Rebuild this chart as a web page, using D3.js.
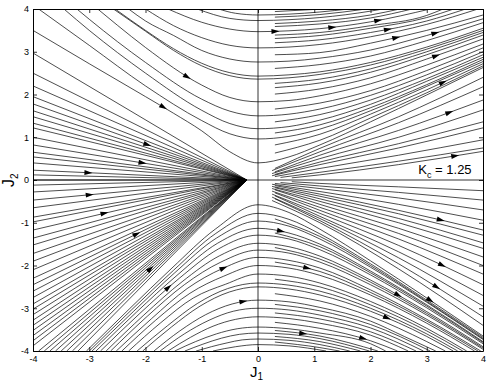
<!DOCTYPE html>
<html>
<head>
<meta charset="utf-8">
<script src="https://cdnjs.cloudflare.com/ajax/libs/d3/7.8.5/d3.min.js"></script>
<style>
body { margin: 0; background: #fff; }
svg { font-family: "Liberation Sans", Arial, Helvetica, sans-serif; }
</style>
</head>
<body>
<div id="flow"></div>
<script>
// ticks
const xTicks = [-4, -3, -2, -1, 0, 1, 2, 3, 4];
const yTicks = [-4, -3, -2, -1, 0, 1, 2, 3, 4];

// stable point on the left, where the fan of flow lines ends
const fixedPoint = [-0.2, 0];

// fan lines: start heights on the left edge, start positions on the bottom edge
const fanLeftY = [2.97, 2.5, 2.2, 1.95, 1.78, 1.62, 1.48, 1.33, 1.22, 1.0, 0.82, 0.65, 0.54, 0.4, 0.23, 0.12, 0,
  -0.12, -0.28, -0.47, -0.65, -0.87, -0.98, -1.17, -1.36, -1.52, -1.72, -1.9, -2.1, -2.3, -2.45, -2.6, -2.75,
  -2.9, -3.02, -3.15, -3.28, -3.4, -3.52, -3.64, -3.76, -3.88];
const fanBottomX = [-3.9, -3.8, -3.7, -3.6, -3.5, -3.4, -3.3, -3.2];

// U shaped lines above the fan (left to right)
const upperCurves = [
  [[-4,3.5],[-3,2.72],[-2,1.95],[-1.5,1.56],[-1,1.15],[-0.5,0.66],[0,0.4],[0.55,0.54],[1.1,0.82],[2,1.36],[3,1.99],[4,2.63]],
  [[-3.9,4],[-3,3.15],[-2,2.2],[-1,1.39],[-0.5,1.08],[0,0.96],[0.55,1.02],[1.1,1.19],[2,1.62],[3,2.19],[4,2.77]],
  [[-3.45,4],[-3,3.5],[-2,2.5],[-1,1.63],[-0.5,1.32],[0,1.2],[0.55,1.25],[1.1,1.4],[2,1.77],[3,2.31],[4,2.87]],
  [[-3.22,4],[-3,3.76],[-2,2.75],[-1,1.89],[-0.5,1.61],[0,1.5],[0.55,1.54],[1.1,1.66],[2,1.98],[3,2.46],[4,3.0]],
  [[-2.85,4],[-2.5,3.62],[-2,3.1],[-1,2.22],[-0.5,1.93],[0,1.83],[0.55,1.86],[1.1,1.97],[2,2.25],[3,2.69],[4,3.18]],
  [[-2.57,4],[-2,3.48],[-1.5,3.03],[-1,2.67],[-0.5,2.44],[0,2.36],[0.55,2.39],[1.1,2.47],[2,2.69],[3,3.06],[4,3.5]],
  [[-2.54,4],[-2,3.5],[-1.5,3.07],[-1,2.73],[-0.5,2.51],[0,2.43],[0.55,2.46],[1.1,2.53],[2,2.75],[3,3.11],[4,3.55]],
  [[-2.3,4],[-2,3.72],[-1.5,3.38],[-1,3.03],[-0.5,2.83],[0,2.76],[0.55,2.78],[1.1,2.85],[2,3.04],[3,3.38],[4,3.77]],
  [[-2,4],[-1.5,3.61],[-1,3.33],[-0.5,3.15],[0,3.09],[0.55,3.11],[1.1,3.17],[2,3.35],[3,3.64],[3.91,4]],
  [[-1.6,4],[-1,3.69],[-0.5,3.53],[0,3.47],[0.55,3.49],[1.1,3.54],[2,3.7],[3.06,4]],
  [[-1.08,4],[-0.5,3.78],[0,3.73],[0.55,3.75],[1.1,3.8],[2,3.95],[2.22,4]],
  [[-0.7,4],[-0.4,3.9],[0,3.86],[0.55,3.88],[1.1,3.93],[1.61,4]]
];

// upside-down U lines below the fan (left to right)
const lowerCurves = [
  [[-3.05,-4],[-2.29,-3.02],[-1.53,-2.06],[-0.76,-1.15],[0,-0.58],[0.55,-0.76],[1.1,-1.15],[2,-1.89],[3,-2.76],[4,-3.65]],
  [[-3,-4],[-2.25,-3.04],[-1.5,-2.11],[-0.75,-1.25],[0,-0.78],[0.55,-0.92],[1.1,-1.26],[2,-1.96],[3,-2.81],[4,-3.68]],
  [[-2.95,-4],[-2.21,-3.07],[-1.48,-2.17],[-0.74,-1.36],[0,-0.96],[0.55,-1.08],[1.1,-1.38],[2,-2.04],[3,-2.86],[4,-3.73]],
  [[-2.88,-4],[-2.16,-3.09],[-1.44,-2.23],[-0.72,-1.48],[0,-1.13],[0.55,-1.24],[1.1,-1.5],[2,-2.13],[3,-2.92],[4,-3.78]],
  [[-2.8,-4],[-2.1,-3.12],[-1.4,-2.3],[-0.7,-1.61],[0,-1.29],[0.55,-1.38],[1.1,-1.63],[2,-2.22],[3,-2.99],[4,-3.83]],
  [[-2.7,-4],[-2.03,-3.16],[-1.35,-2.38],[-0.68,-1.77],[0,-1.48],[0.55,-1.56],[1.1,-1.78],[2,-2.34],[3,-3.08],[4,-3.9]],
  [[-2.62,-4],[-1.97,-3.19],[-1.31,-2.45],[-0.66,-1.92],[0,-1.64],[0.55,-1.71],[1.1,-1.92],[2,-2.45],[3,-3.16],[4,-3.96]],
  [[-2.52,-4],[-1.89,-3.24],[-1.26,-2.54],[-0.63,-2.07],[0,-1.81],[0.55,-1.88],[1.1,-2.06],[2,-2.57],[3,-3.26],[3.96,-4]],
  [[-2.42,-4],[-1.82,-3.28],[-1.21,-2.65],[-0.61,-2.25],[0,-2],[0.55,-2.06],[1.1,-2.23],[2,-2.69],[3,-3.35],[3.85,-4]],
  [[-2.3,-4],[-1.73,-3.34],[-1.15,-2.76],[-0.58,-2.44],[0,-2.2],[0.55,-2.25],[1.1,-2.41],[2,-2.84],[3,-3.47],[3.71,-4]],
  [[-2.15,-4],[-1.61,-3.41],[-1.08,-2.89],[-0.54,-2.54],[0,-2.41],[0.55,-2.46],[1.1,-2.6],[2,-3.0],[3,-3.6],[3.55,-4]],
  [[-2.05,-4],[-1.54,-3.44],[-1.03,-2.95],[-0.51,-2.62],[0,-2.5],[0.55,-2.55],[1.1,-2.69],[2,-3.07],[3,-3.66],[3.47,-4]],
  [[-1.85,-4],[-1.39,-3.53],[-0.93,-3.15],[-0.46,-2.9],[0,-2.81],[0.55,-2.85],[1.1,-2.98],[2,-3.3],[2.6,-3.66],[3.16,-4]],
  [[-1.74,-4],[-1.31,-3.6],[-0.87,-3.28],[-0.44,-3.07],[0,-3],[0.55,-3.04],[1.1,-3.16],[2,-3.46],[2.94,-4]],
  [[-1.6,-4],[-1.2,-3.68],[-0.8,-3.42],[-0.4,-3.26],[0,-3.2],[0.55,-3.24],[1.1,-3.35],[2,-3.63],[2.67,-4]],
  [[-1.48,-4],[-1.11,-3.78],[-0.74,-3.6],[-0.37,-3.48],[0,-3.44],[0.55,-3.48],[1.1,-3.58],[2,-3.83],[2.27,-4]],
  [[-1.3,-4],[-0.98,-3.84],[-0.65,-3.7],[-0.33,-3.61],[0,-3.58],[0.55,-3.61],[1.1,-3.71],[1.98,-4]],
  [[-1.1,-4],[-0.83,-3.9],[-0.55,-3.81],[-0.28,-3.74],[0,-3.72],[0.55,-3.75],[1.1,-3.85],[1.63,-4]],
  [[-0.8,-4],[-0.4,-3.9],[0,-3.85],[0.55,-3.88],[1.21,-4]]
];

// lines that start just right of J1 = 0, upper half
const upperRightLines = [
  [[0.6,0.05],[1.1,0.12],[2.5,0.36],[4,0.67]],
  [[0.4,0.06],[1.1,0.18],[2.5,0.44],[4,0.75]],
  [[0.3,0.08],[1.1,0.27],[2.5,0.58],[4,0.94]],
  [[0.25,0.1],[1.1,0.36],[2.5,0.75],[4,1.22]],
  [[0.3,0.13],[1.1,0.42],[2.5,0.85],[4,1.36]],
  [[0.25,0.15],[1.1,0.5],[2.5,1.0],[4,1.64]],
  [[0.3,0.19],[1.1,0.58],[2.5,1.16],[4,1.87]],
  [[0.25,0.22],[1.1,0.66],[2.5,1.34],[4,2.18]],
  [[0.3,0.27],[1.1,0.74],[2.5,1.48],[4,2.4]],
  [[0.3,0.63],[1.1,0.93],[2,1.45],[3,2.04],[4,2.67]],
  [[0.3,0.82],[1.1,1.07],[2,1.54],[3,2.11],[4,2.72]],
  [[0.3,1.1],[1.1,1.29],[2,1.69],[3,2.23],[4,2.82]],
  [[0.3,1.36],[1.1,1.53],[2,1.87],[3,2.37],[4,2.93]],
  [[0.3,1.66],[1.1,1.8],[2,2.09],[3,2.56],[4,3.09]],
  [[0.3,2.01],[1.1,2.13],[2,2.39],[3,2.83],[4,3.3]],
  [[0.3,2.16],[1.1,2.27],[2,2.52],[3,2.93],[4,3.39]],
  [[0.3,2.26],[1.1,2.36],[2,2.6],[3,3.0],[4,3.45]],
  [[0.3,2.61],[1.1,2.7],[2,2.9],[3,3.26],[4,3.68]],
  [[0.3,2.93],[1.1,2.98],[2,3.2],[3,3.5],[4,3.86]],
  [[0.3,3.21],[1.1,3.28],[2,3.45],[3,3.72],[3.69,4]],
  [[0.3,3.31],[1.1,3.38],[2,3.55],[3,3.8],[3.48,4]],
  [[0.3,3.39],[1.1,3.45],[2,3.61],[3,3.85],[3.29,4]],
  [[0.3,3.59],[1.1,3.65],[2,3.79],[2.74,4]],
  [[0.3,3.66],[1.1,3.72],[2,3.86],[2.52,4]],
  [[0.3,3.81],[1.1,3.87],[1.92,4]],
  [[0.3,3.94],[1.15,4]]
];

// lines that start just right of J1 = 0, lower half
const lowerRightLines = [
  [[0.6,-0.04],[1.1,-0.08],[2.5,-0.16],[4,-0.25]],
  [[0.4,-0.06],[1.1,-0.14],[2.5,-0.29],[4,-0.47]],
  [[0.3,-0.08],[1.1,-0.2],[2.5,-0.42],[4,-0.7]],
  [[0.25,-0.1],[1.1,-0.27],[2.5,-0.57],[4,-0.94]],
  [[0.3,-0.13],[1.1,-0.33],[2.5,-0.71],[4,-1.17]],
  [[0.25,-0.15],[1.1,-0.38],[2.5,-0.79],[4,-1.29]],
  [[0.3,-0.18],[1.1,-0.44],[2.5,-0.9],[4,-1.47]],
  [[0.25,-0.2],[1.1,-0.5],[2.5,-1.0],[4,-1.6]],
  [[0.3,-0.23],[1.1,-0.57],[2.5,-1.13],[4,-1.8]],
  [[0.25,-0.26],[1.1,-0.64],[2.5,-1.25],[4,-2.0]],
  [[0.3,-0.3],[1.1,-0.71],[2.5,-1.38],[4,-2.2]],
  [[0.25,-0.33],[1.1,-0.78],[2.5,-1.53],[4,-2.45]],
  [[0.3,-0.37],[1.1,-0.85],[2.5,-1.68],[4,-2.7]],
  [[0.25,-0.4],[1.1,-0.9],[2.5,-1.82],[4,-2.95]],
  [[0.3,-0.44],[1.1,-0.95],[2.5,-1.96],[4,-3.2]],
  [[0.25,-0.48],[1.1,-1.0],[2.5,-2.08],[4,-3.4]],
  [[0.3,-0.91],[1.1,-1.32],[2,-2.0],[3,-2.84],[4,-3.71]],
  [[0.3,-1.24],[1.1,-1.56],[2,-2.17],[3,-2.95],[4,-3.8]],
  [[0.3,-1.58],[1.1,-1.85],[2,-2.39],[3,-3.12],[4,-3.93]],
  [[0.3,-1.92],[1.1,-2.14],[2,-2.63],[3,-3.3],[3.91,-4]],
  [[0.3,-2.32],[1.1,-2.5],[2,-2.92],[3,-3.53],[3.64,-4]],
  [[0.3,-2.66],[1.1,-2.83],[2,-3.19],[3,-3.78],[3.33,-4]],
  [[0.3,-2.91],[1.1,-3.06],[2,-3.38],[3.06,-4]],
  [[0.3,-3.11],[1.1,-3.25],[2,-3.55],[2.81,-4]],
  [[0.3,-3.33],[1.1,-3.47],[2,-3.76],[2.48,-4]],
  [[0.3,-3.52],[1.1,-3.65],[2.13,-4]],
  [[0.3,-3.66],[1.1,-3.78],[1.82,-4]],
  [[0.3,-3.79],[1.1,-3.92],[1.45,-4]]
];

// where the arrow heads sit (they get snapped onto the nearest line)
const arrowPts = [
  [-1.69,1.68],[-1.24,2.43],[0.30,3.47],
  [1.33,3.58],[2.13,3.70],[2.31,3.51],[2.47,3.30],[3.16,3.46],[3.18,2.85],[3.29,2.27],[3.43,1.50],
  [3.50,0.56],
  [-1.97,0.82],[-2.06,0.37],[-3.02,0.23],[-2.99,-0.33],[-2.72,-0.75],[-2.15,-1.26],
  [-1.92,-2.06],[-1.60,-2.50],[-0.62,-1.99],[-0.27,-2.83],
  [0.43,-1.12],[0.89,-2.03],[0.80,-3.60],[3.27,-0.87],
  [3.25,-2.03],[3.18,-2.53],[3.06,-2.83],[2.51,-2.67],[2.31,-3.23],[1.88,-3.70]
];

const svgWidth = 491;
const svgHeight = 382;
const margin = { top: 9, right: 8, bottom: 31, left: 33 };
const width = svgWidth - margin.left - margin.right;
const height = svgHeight - margin.top - margin.bottom;

const svg = d3.select('#flow')
  .append('svg')
  .attr('width', svgWidth)
  .attr('height', svgHeight);

const g = svg.append('g')
  .attr('transform', 'translate(' + margin.left + ',' + margin.top + ')');

const x = d3.scaleLinear().domain([-4, 4]).range([0, width]);
const y = d3.scaleLinear().domain([-4, 4]).range([height, 0]);

g.append('clipPath').attr('id', 'plot-clip')
  .append('rect').attr('width', width).attr('height', height);

const line = d3.line()
  .x(d => x(d[0]))
  .y(d => y(d[1]))
  .curve(d3.curveMonotoneX);

const fanLines = fanLeftY.map(v => [[-4, v], fixedPoint])
  .concat(fanBottomX.map(v => [[v, -4], fixedPoint]));

const allLines = fanLines
  .concat(upperCurves, lowerCurves, upperRightLines, lowerRightLines);

const plot = g.append('g').attr('clip-path', 'url(#plot-clip)');

// the two axis lines through the origin
plot.append('line')
  .attr('x1', x(-4)).attr('x2', x(4)).attr('y1', y(0)).attr('y2', y(0))
  .attr('stroke', '#000').attr('stroke-width', 0.8);
plot.append('line')
  .attr('x1', x(0)).attr('x2', x(0)).attr('y1', y(-4)).attr('y2', y(4))
  .attr('stroke', '#000').attr('stroke-width', 0.8);

const paths = plot.selectAll('.flow')
  .data(allLines)
  .enter().append('path')
  .attr('class', 'flow')
  .attr('d', line)
  .attr('fill', 'none')
  .attr('stroke', '#000')
  .attr('stroke-width', 0.7);

// sample every line so arrows can be put on the closest one
const samples = [];
paths.each(function() {
  const node = this;
  const len = node.getTotalLength();
  for (let l = 0; l <= len; l += 1.5) {
    const p = node.getPointAtLength(l);
    samples.push({ node: node, l: l, len: len, x: p.x, y: p.y });
  }
});

arrowPts.forEach(a => {
  const ax = x(a[0]), ay = y(a[1]);
  let best = null, bestD = Infinity;
  samples.forEach(s => {
    const d = (s.x - ax) * (s.x - ax) + (s.y - ay) * (s.y - ay);
    if (d < bestD) { bestD = d; best = s; }
  });
  const p0 = best.node.getPointAtLength(Math.max(0, best.l - 2));
  const p1 = best.node.getPointAtLength(Math.min(best.len, best.l + 2));
  const ang = Math.atan2(p1.y - p0.y, p1.x - p0.x) * 180 / Math.PI;
  plot.append('path')
    .attr('d', 'M4,0L-4,-2.5L-4,2.5Z')
    .attr('transform', 'translate(' + best.x + ',' + best.y + ') rotate(' + ang + ')')
    .attr('fill', '#000');
});

// axes, MATLAB style: ticks inside on all four sides
const axisStyle = sel => {
  sel.select('.domain').attr('stroke', '#000').attr('stroke-width', 1);
  sel.selectAll('.tick line').attr('stroke', '#000').attr('stroke-width', 0.8);
  sel.selectAll('.tick text').attr('fill', '#000').style('font-size', '9px');
};

g.append('g')
  .attr('transform', 'translate(0,' + height + ')')
  .call(d3.axisBottom(x).tickValues(xTicks).tickSize(-4).tickSizeOuter(0).tickPadding(5).tickFormat(d => String(d)))
  .call(axisStyle);

g.append('g')
  .call(d3.axisLeft(y).tickValues(yTicks).tickSize(-4).tickSizeOuter(0).tickPadding(4).tickFormat(d => String(d)))
  .call(axisStyle);

g.append('g')
  .call(d3.axisTop(x).tickValues(xTicks).tickSize(-4).tickSizeOuter(0).tickFormat(''))
  .call(axisStyle);

g.append('g')
  .attr('transform', 'translate(' + width + ',0)')
  .call(d3.axisRight(y).tickValues(yTicks).tickSize(-4).tickSizeOuter(0).tickFormat(''))
  .call(axisStyle);

// axis titles
const xTitle = svg.append('text')
  .attr('x', 250)
  .attr('y', 377)
  .style('font-size', '15px')
  .attr('fill', '#000');
xTitle.append('tspan').text('J');
xTitle.append('tspan').attr('dy', 3).style('font-size', '10px').text('1');

const yTitle = svg.append('text')
  .attr('transform', 'translate(14,187) rotate(-90)')
  .style('font-size', '16px')
  .attr('fill', '#000');
yTitle.append('tspan').text('J');
yTitle.append('tspan').attr('dy', 4).style('font-size', '10px').text('2');

// critical coupling note
const kc = g.append('text')
  .attr('x', x(2.85))
  .attr('y', y(0.15))
  .style('font-size', '13px')
  .attr('fill', '#000');
kc.append('tspan').text('K');
kc.append('tspan').attr('dy', 4).style('font-size', '9px').text('c');
kc.append('tspan').attr('dy', -4).text(' = 1.25');
</script>
</body>
</html>
